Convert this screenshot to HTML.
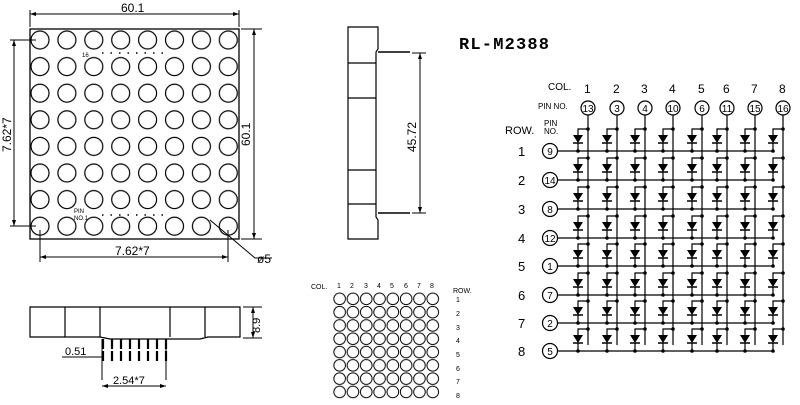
<!DOCTYPE html>
<html><head><meta charset="utf-8"><style>
html,body{margin:0;padding:0;background:#fff}
svg{display:block}
text{font-family:"Liberation Sans",sans-serif;fill:#000}
</style></head><body>
<svg width="800" height="405" viewBox="0 0 800 405" xmlns="http://www.w3.org/2000/svg">
<defs>
<pattern id="fc" x="26.5" y="26.7" width="26.9" height="26.6" patternUnits="userSpaceOnUse">
<circle cx="13.5" cy="13.3" r="9" fill="none" stroke="#000" stroke-width="1.2"/>
</pattern>
<pattern id="sc" x="333" y="292.2" width="13.3" height="13.3" patternUnits="userSpaceOnUse">
<circle cx="6.65" cy="6.65" r="5.8" fill="none" stroke="#000" stroke-width="1"/>
</pattern>
<g id="cell">
<path d="M0,-22 H-10 V-16 M-10,-8 V0" fill="none" stroke="#000" stroke-width="1.2"/>
<path d="M-15,-16 H-5 L-10,-8 Z" fill="#000"/>
<path d="M-15,-8 H-5" stroke="#000" stroke-width="1.5"/>
<circle cx="0" cy="-22" r="1.8" fill="#000"/>
<circle cx="-10" cy="0" r="1.8" fill="#000"/>
</g>
<g id="row">
<use href="#cell" x="588"/><use href="#cell" x="617"/><use href="#cell" x="645"/><use href="#cell" x="673"/>
<use href="#cell" x="702"/><use href="#cell" x="727"/><use href="#cell" x="755"/><use href="#cell" x="783"/>
<path d="M557,0 H773" stroke="#000" stroke-width="1.2"/>
</g>
</defs>

<!-- Front view -->
<rect x="30" y="29" width="209" height="210" fill="url(#fc)" stroke="#000" stroke-width="1.3"/>
<g stroke="#000" stroke-width="1" fill="none">
<path d="M30,27 V10 M239,27 V10 M30,14 H239"/>
<path d="M241,29 H262 M241,239 H262 M254,29 V239"/>
<path d="M36,40 H10 M36,226 H10 M14,40 V226"/>
<path d="M40,230 V262 M228,230 V262 M40,257 H228"/>
<path d="M210,220 L255,258 H272"/>
</g>
<path d="M30,14 l6,-2 v4z M239,14 l-6,-2 v4z M254,29 l-2,6 h4z M254,239 l-2,-6 h4z M14,40 l-2,6 h4z M14,226 l-2,-6 h4z M40,257 l6,-2 v4z M228,257 l-6,-2 v4z" fill="#000"/>
<text x="121" y="12" font-size="12">60.1</text>
<text x="115" y="255" font-size="12">7.62*7</text>
<text x="257" y="263" font-size="12">ø5</text>
<text transform="translate(11,152) rotate(-90)" font-size="12">7.62*7</text>
<text transform="translate(250,146) rotate(-90)" font-size="12">60.1</text>
<text x="82" y="57" font-size="6">16</text>
<text x="74" y="213" font-size="6">PIN</text>
<text x="74" y="220" font-size="6">NO.1</text>
<path d="M102,53 H166 M102,215 H166" stroke="#000" stroke-width="1.5" stroke-dasharray="1.5,7"/>

<!-- Side view -->
<g stroke="#000" stroke-width="1.2" fill="none">
<path d="M348,27 H378 V49 L376,52 V217 L378,220 V239 H348 Z"/>
<path d="M348,63 H376 M348,98 H376 M348,170 H376 M348,204 H376"/>
<path d="M378,52 H410 M378,213 H410" stroke-width="1.5"/>
<path d="M412,53 H426 M412,213 H426 M420,53 V213" stroke-width="1"/>
</g>
<path d="M420,53 l-2,6 h4z M420,213 l-2,-6 h4z" fill="#000"/>
<text transform="translate(416,152) rotate(-90)" font-size="12">45.72</text>

<text x="459" y="49" font-size="17" font-weight="bold" letter-spacing="1.2" style="font-family:'Liberation Mono',monospace">RL-M2388</text>

<!-- Bottom view -->
<g stroke="#000" stroke-width="1.2" fill="none">
<path d="M30,307 H240 V337 H208 L200,339 H110 L100,337 H30 Z"/>
<path d="M65,307 V337 M100,307 V337 M170,307 V337 M205,307 V337"/>
<path d="M243,307 H262 M243,338 H262 M253,307 V338" stroke-width="1"/>
<path d="M102,339 V380 M166,339 V380 M102,386 H166 M62,357 H102" stroke-width="1"/>
</g>
<g stroke="#000" stroke-width="2.2" stroke-dasharray="10,2">
<path d="M103,339 V362 M112,339 V362 M121,339 V362 M130,339 V362 M139,339 V362 M148,339 V362 M157,339 V362 M166,339 V362"/>
</g>
<path d="M253,307 l-2,6 h4z M253,338 l-2,-6 h4z M102,386 l6,-2 v4z M166,386 l-6,-2 v4z" fill="#000"/>
<text transform="translate(260,333) rotate(-90)" font-size="11">8.9</text>
<text x="65" y="355" font-size="11">0.51</text>
<text x="113" y="384" font-size="11">2.54*7</text>

<!-- Small matrix -->
<rect x="333" y="292.2" width="106.4" height="106.4" fill="url(#sc)"/>
<text x="311" y="289" font-size="7">COL.</text>
<g font-size="7">
<text x="337" y="288">1</text><text x="350" y="288">2</text><text x="364" y="288">3</text><text x="377" y="288">4</text>
<text x="390" y="288">5</text><text x="404" y="288">6</text><text x="417" y="288">7</text><text x="430" y="288">8</text>
<text x="453" y="293">ROW.</text>
<text x="456" y="302">1</text><text x="456" y="316">2</text><text x="456" y="330">3</text><text x="456" y="343">4</text>
<text x="456" y="357">5</text><text x="456" y="371">6</text><text x="456" y="384">7</text><text x="456" y="398">8</text>
</g>

<!-- Schematic -->
<text x="548" y="90" font-size="10">COL.</text>
<g font-size="12">
<text x="584" y="93">1</text><text x="613" y="93">2</text><text x="641" y="93">3</text><text x="669" y="93">4</text>
<text x="698" y="93">5</text><text x="723" y="93">6</text><text x="751" y="93">7</text><text x="779" y="93">8</text>
</g>
<text x="538" y="109" font-size="8">PIN NO.</text>
<text x="544" y="126" font-size="8">PIN</text>
<text x="544" y="134" font-size="8">NO.</text>
<text x="505" y="134" font-size="11">ROW.</text>
<g stroke="#000" stroke-width="1.2" fill="none">
<circle cx="588" cy="108" r="7"/><circle cx="617" cy="108" r="7"/><circle cx="645" cy="108" r="7"/><circle cx="673" cy="108" r="7"/>
<circle cx="702" cy="108" r="7"/><circle cx="727" cy="108" r="7"/><circle cx="755" cy="108" r="7"/><circle cx="783" cy="108" r="7"/>
<path d="M588,115 V345 M617,115 V345 M645,115 V345 M673,115 V345 M702,115 V345 M727,115 V345 M755,115 V345 M783,115 V345"/>
<circle cx="550" cy="151" r="7.5"/><circle cx="550" cy="180" r="7.5"/><circle cx="550" cy="209" r="7.5"/><circle cx="550" cy="238" r="7.5"/>
<circle cx="550" cy="266" r="7.5"/><circle cx="550" cy="295" r="7.5"/><circle cx="550" cy="323" r="7.5"/><circle cx="550" cy="351" r="7.5"/>
</g>
<g font-size="10" text-anchor="middle">
<text x="588" y="112">13</text><text x="617" y="112">3</text><text x="645" y="112">4</text><text x="673" y="112">10</text>
<text x="702" y="112">6</text><text x="727" y="112">11</text><text x="755" y="112">15</text><text x="783" y="112">16</text>
<text x="550" y="155">9</text><text x="550" y="184">14</text><text x="550" y="213">8</text><text x="550" y="242">12</text>
<text x="550" y="270">1</text><text x="550" y="299">7</text><text x="550" y="327">2</text><text x="550" y="355">5</text>
</g>
<g font-size="13">
<text x="518" y="156">1</text><text x="518" y="185">2</text><text x="518" y="214">3</text><text x="518" y="243">4</text>
<text x="518" y="271">5</text><text x="518" y="300">6</text><text x="518" y="328">7</text><text x="518" y="356">8</text>
</g>
<use href="#row" y="151"/><use href="#row" y="180"/><use href="#row" y="209"/><use href="#row" y="238"/>
<use href="#row" y="266"/><use href="#row" y="295"/><use href="#row" y="323"/><use href="#row" y="351"/>
</svg>
</body></html>
